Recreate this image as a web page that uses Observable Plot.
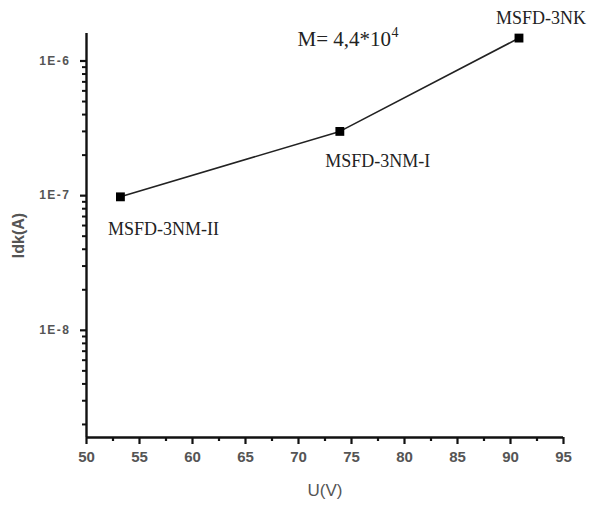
<!DOCTYPE html>
<html>
<head>
<meta charset="utf-8">
<script src="https://cdn.jsdelivr.net/npm/d3@7"></script>
<script src="https://cdn.jsdelivr.net/npm/@observablehq/plot@0.6"></script>
<style>
  html, body { margin: 0; padding: 0; background: #fff; }
  #chart svg { display: block; }
  g[aria-label="y-axis tick label"] text { letter-spacing: 1.5px; }
</style>
</head>
<body>
<div id="chart"></div>
<script>
// ---- data ----
const samples = ["MSFD-3NM-II", "MSFD-3NM-I", "MSFD-3NK"];
const voltage = [53.2, 73.9, 90.8];          // U (V)
const current = [9.8e-8, 3.0e-7, 1.48e-6];   // Idk (A)
const annotationMain = "M= 4,4*10";
const annotationExp = "4";

const xMajorTicks = [50, 55, 60, 65, 70, 75, 80, 85, 90, 95];
const xMinorTicks = [52.5, 57.5, 62.5, 67.5, 72.5, 77.5, 82.5, 87.5, 92.5];
const yMajorTicks = [1e-8, 1e-7, 1e-6];
const yMajorLabels = ["1E-8", "1E-7", "1E-6"];
const yMinorTicks = [
  2e-9, 3e-9, 4e-9, 5e-9, 6e-9, 7e-9, 8e-9, 9e-9,
  2e-8, 3e-8, 4e-8, 5e-8, 6e-8, 7e-8, 8e-8, 9e-8,
  2e-7, 3e-7, 4e-7, 5e-7, 6e-7, 7e-7, 8e-7, 9e-7
];
const xLabel = "U(V)";
const yLabel = "Idk(A)";

const xDomain = [50, 95];
const yDomain = [1.6e-9, 1.6e-6];

// ---- table ----
const rows = samples.map((s, i) => ({sample: s, U: voltage[i], I: current[i]}));

const sansFont = "Liberation Sans, Arial, sans-serif";
const serifFont = "Liberation Serif, Times New Roman, serif";
const axisColor = "#111";

const chart = Plot.plot({
  width: 595,
  height: 507,
  marginLeft: 86,
  marginRight: 32,
  marginTop: 33,
  marginBottom: 70,
  style: {background: "#fff", overflow: "visible"},
  x: {type: "linear", domain: xDomain},
  y: {type: "log", domain: yDomain},
  marks: [
    // minor ticks (outward)
    Plot.ruleX(xMinorTicks, {x: d => d, y1: yDomain[0], y2: yDomain[0], insetBottom: -4,
      stroke: axisColor, strokeWidth: 2.2}),
    Plot.ruleY(yMinorTicks, {y: d => d, x1: xDomain[0], x2: xDomain[0], insetLeft: -4,
      stroke: axisColor, strokeWidth: 2}),
    // major ticks (outward)
    Plot.ruleX(xMajorTicks, {x: d => d, y1: yDomain[0], y2: yDomain[0], insetBottom: -7,
      stroke: axisColor, strokeWidth: 2.2}),
    Plot.ruleY(yMajorTicks, {y: d => d, x1: xDomain[0], x2: xDomain[0], insetLeft: -6,
      stroke: axisColor, strokeWidth: 2.2}),
    // tick labels
    Plot.axisX({ticks: xMajorTicks, tickSize: 0, tickPadding: 14, tickFormat: d => String(d),
      fontSize: 15, fontWeight: "bold", fill: "#555",
      fontFamily: sansFont, label: null}),
    Plot.axisY({ticks: yMajorTicks, tickSize: 0, tickPadding: 16,
      tickFormat: d => yMajorLabels[yMajorTicks.indexOf(d)],
      fontSize: 12, fontWeight: "bold", fill: "#555",
      fontFamily: sansFont, label: null}),
    // axis lines
    Plot.ruleX([xDomain[0]], {stroke: axisColor, strokeWidth: 2.4}),
    Plot.ruleY([yDomain[0]], {stroke: axisColor, strokeWidth: 2.4}),
    // axis titles
    Plot.text([xLabel], {frameAnchor: "bottom", dy: 53, text: d => d, fontSize: 17,
      fill: "#555", fontFamily: sansFont, lineAnchor: "middle"}),
    Plot.text([yLabel], {frameAnchor: "left", dx: -68, rotate: -90, text: d => d, fontSize: 16,
      fill: "#555", fontWeight: "bold", fontFamily: sansFont, lineAnchor: "middle", textAnchor: "middle"}),
    // data line and markers
    Plot.line(rows, {x: "U", y: "I", stroke: "#222", strokeWidth: 1.6}),
    Plot.dot(rows, {x: "U", y: "I", symbol: "square", r: 5, fill: "#000", stroke: "none"}),
    // point labels
    Plot.text(rows.filter(d => d.sample === "MSFD-3NM-II"), {x: "U", y: "I", text: "sample", dx: 43, dy: 32,
      fontSize: 18, fontFamily: serifFont, fill: "#222", lineAnchor: "middle"}),
    Plot.text(rows.filter(d => d.sample === "MSFD-3NM-I"), {x: "U", y: "I", text: "sample", dx: 38, dy: 30,
      fontSize: 18, fontFamily: serifFont, fill: "#222", lineAnchor: "middle"}),
    Plot.text(rows.filter(d => d.sample === "MSFD-3NK"), {x: "U", y: "I", text: "sample", dx: 22, dy: -20,
      fontSize: 18, fontFamily: serifFont, fill: "#222", lineAnchor: "middle"}),
    // annotation M = 4,4*10^4
    Plot.text([annotationMain], {frameAnchor: "top-left", dx: 211, dy: 6, text: d => d,
      fontSize: 21, fontFamily: serifFont, fill: "#222", textAnchor: "start", lineAnchor: "middle"}),
    Plot.text([annotationExp], {frameAnchor: "top-left", dx: 305, dy: -1, text: d => d,
      fontSize: 14, fontFamily: serifFont, fill: "#222", textAnchor: "start", lineAnchor: "middle"})
  ]
});

document.getElementById("chart").append(chart);
</script>
</body>
</html>
